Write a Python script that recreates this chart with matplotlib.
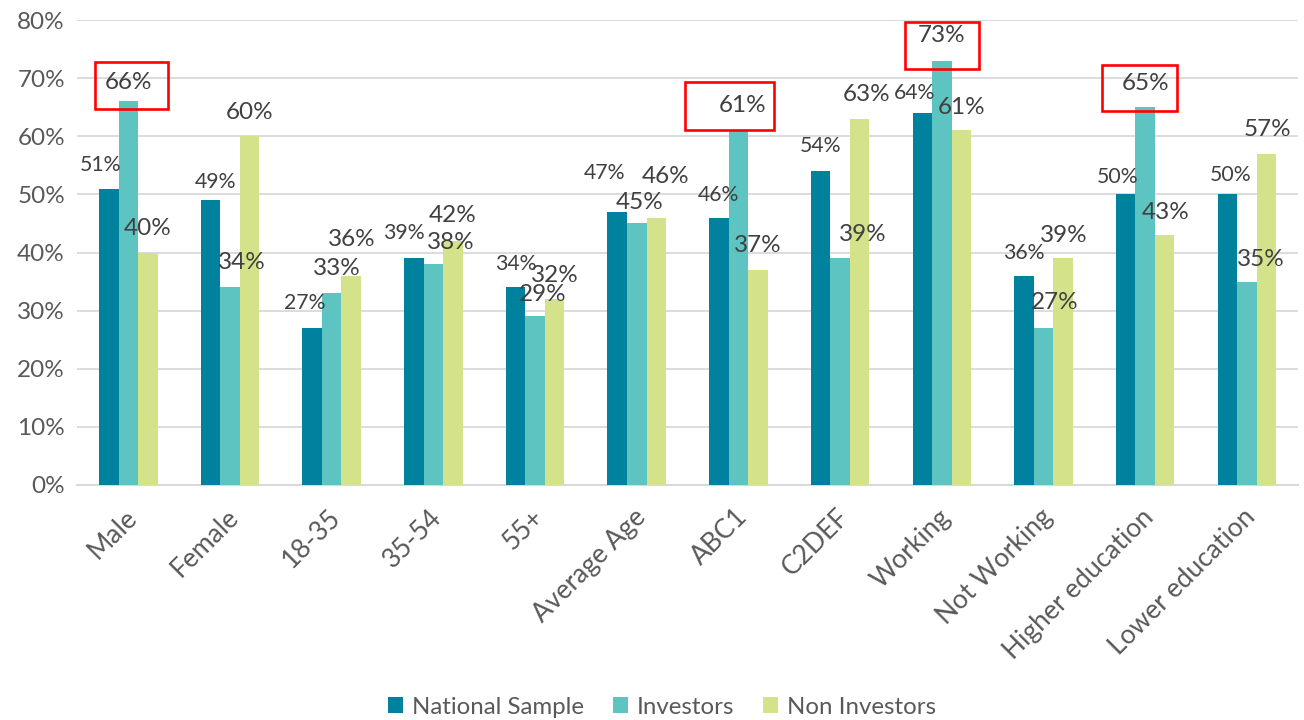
import matplotlib
matplotlib.use("Agg")
import matplotlib.pyplot as plt
from matplotlib.patches import Rectangle
from matplotlib.transforms import ScaledTranslation
import numpy as np

categories = ["Male", "Female", "18-35", "35-54", "55+", "Average Age", "ABC1",
              "C2DEF", "Working", "Not Working", "Higher education", "Lower education"]
series_names = ["National Sample", "Investors", "Non Investors"]
national = [51, 49, 27, 39, 34, 47, 46, 54, 64, 36, 50, 50]
investors = [66, 34, 33, 38, 29, 45, 61, 39, 73, 27, 65, 35]
non_investors = [40, 60, 36, 42, 32, 46, 37, 63, 61, 39, 43, 57]
yticks = [0, 10, 20, 30, 40, 50, 60, 70, 80]
highlight_cats = ["Male", "ABC1", "Working", "Higher education"]

# styling / positioning (pixel offsets of labels relative to bar top)
colors = ["#00829F", "#5EC4C1", "#D4E38A"]
off_nat = [(-8, 24), (5, 18), (-7, 25), (-10, 25), (0, 23), (-13, 39), (0, 23),
           (0, 25), (-8, 20), (0, 23), (-8, 17), (3, 19)]
off_inv = [(0, 19), (12, 25), (5, 25), (17, 22), (8, 22), (3, 21), (4, 25),
           (23, 24), (0, 25), (11, 26), (0, 24), (14, 22)]
off_non = [(0, 24), (0, 24), (1, 36), (0, 25), (0, 24), (9, 41), (0, 24),
           (7, 24), (0, 23), (1, 23), (1, 23), (1, 24)]
# box extents: (left, right) in category units relative to group centre, (bottom, top) in data units
box_geom = {"Male": (-0.33, 0.39, 64.7, 72.8), "ABC1": (-0.53, 0.35, 61.1, 69.3),
            "Working": (-0.36, 0.37, 71.6, 79.7), "Higher education": (-0.42, 0.31, 64.3, 72.3)}

plt.rcParams['font.family'] = ['Lato', 'DejaVu Sans']
fig = plt.figure(figsize=(13.04, 7.2), dpi=100)
ax = fig.add_axes([0.0594, 0.3264, 0.9358, 0.6458])

x = np.arange(len(categories))
w = 0.192
data = [national, investors, non_investors]
offs = [off_nat, off_inv, off_non]
fsz = [15.3, 17.5, 17.5]
for k, (vals, col, name) in enumerate(zip(data, colors, series_names)):
    xs = x + (k - 1) * w
    ax.bar(xs, vals, width=w, color=col, label=name, zorder=3, linewidth=0)
    for xi, v, (dx, dy) in zip(xs, vals, offs[k]):
        ax.annotate(f"{v}%", (xi, v), xytext=(dx * 0.72, dy * 0.72), textcoords="offset points",
                    ha="center", va="center", fontsize=fsz[k], color="#404040", zorder=5)

for cat in highlight_cats:
    i = categories.index(cat)
    l, r, b, t = box_geom[cat]
    ax.add_patch(Rectangle((i + l, b), r - l, t - b, fill=False, edgecolor="#FF0000",
                           linewidth=1.9, zorder=6, clip_on=False))

ax.set_xlim(-0.5, len(categories) - 0.5)
ax.set_ylim(0, 80)
ax.set_yticks(yticks)
ax.set_yticklabels([f"{t}%" for t in yticks])
ax.grid(axis="y", color="#D9D9D9", linewidth=1.3, zorder=0)
ax.set_axisbelow(True)
for s in ["top", "right", "left"]:
    ax.spines[s].set_visible(False)
ax.spines["bottom"].set_color("#D9D9D9")
ax.spines["bottom"].set_linewidth(1.5)
ax.tick_params(axis="both", length=0, labelsize=17.5, labelcolor="#595959")
ax.tick_params(axis="y", pad=9)
ax.set_xticks(x)
ax.set_xticklabels(categories, rotation=45, ha="right", va="top", rotation_mode="anchor",
                   fontsize=19)
ax.tick_params(axis="x", pad=14)
shift = ScaledTranslation(-4 / 100, 0, fig.dpi_scale_trans)
for lab in ax.get_xticklabels():
    lab.set_transform(lab.get_transform() + shift)

leg = fig.legend(loc="center", bbox_to_anchor=(0.508, 0.018), ncol=3, frameon=False,
                 fontsize=17.3, handlelength=0.6, handleheight=0.6, columnspacing=1.2,
                 handletextpad=0.4, labelcolor="#595959")

fig.savefig("out.png", dpi=100)
